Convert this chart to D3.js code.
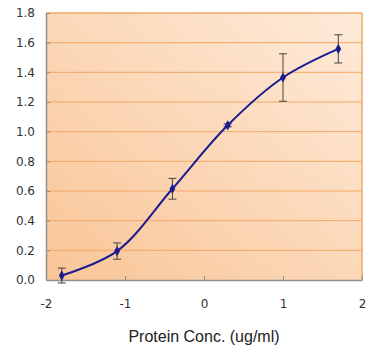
<!DOCTYPE html>
<html>
<head>
<meta charset="utf-8">
<script src="https://d3js.org/d3.v7.min.js"></script>
<style>
  body { margin: 0; background: #fff; }
  svg { display: block; }
</style>
</head>
<body>
<script>
// data
var conc = [-1.8, -1.1, -0.4, 0.3, 1.0, 1.7];
var signal = [0.03, 0.195, 0.615, 1.043, 1.365, 1.558];
var errs = [0.05, 0.055, 0.07, 0.01, 0.16, 0.095];
var xTicks = [-2, -1, 0, 1, 2];
var yTicks = [0, 0.2, 0.4, 0.6, 0.8, 1.0, 1.2, 1.4, 1.6, 1.8];

var width = 377, height = 352;
var margin = {left: 46, top: 13, right: 15, bottom: 72};

var svg = d3.select("body").append("svg")
    .attr("width", width)
    .attr("height", height);

var x = d3.scaleLinear().domain([-2, 2]).range([margin.left, width - margin.right]);
var y = d3.scaleLinear().domain([0, 1.8]).range([height - margin.bottom, margin.top]);

// background gradient
var defs = svg.append("defs");
var grad = defs.append("linearGradient")
    .attr("id", "bg")
    .attr("x1", "0%").attr("y1", "100%")
    .attr("x2", "100%").attr("y2", "0%");
grad.append("stop").attr("offset", "0%").attr("stop-color", "#f9c596");
grad.append("stop").attr("offset", "100%").attr("stop-color", "#feebda");

svg.append("rect")
    .attr("x", x(-2)).attr("y", y(1.8))
    .attr("width", x(2) - x(-2))
    .attr("height", y(0) - y(1.8))
    .attr("fill", "url(#bg)");

// gridlines
svg.append("g").selectAll("line")
    .data(yTicks.filter(function(d){ return d > 0; }))
    .enter().append("line")
    .attr("x1", x(-2)).attr("x2", x(2))
    .attr("y1", function(d){ return y(d); })
    .attr("y2", function(d){ return y(d); })
    .attr("stroke", "#f2a764")
    .attr("stroke-width", function(d){ return d === 1.8 ? 1.5 : 1; });

// right border
svg.append("line")
    .attr("x1", x(2)).attr("x2", x(2))
    .attr("y1", y(1.8)).attr("y2", y(0))
    .attr("stroke", "#f2a764").attr("stroke-width", 1.5);

// axes
var yAxis = d3.axisLeft(y).tickValues(yTicks)
    .tickFormat(d3.format(".1f"))
    .tickSizeInner(-4).tickSizeOuter(0).tickPadding(11);
var gy = svg.append("g")
    .attr("transform", "translate(" + x(-2) + ",0)")
    .call(yAxis);

var xAxis = d3.axisBottom(x).tickValues(xTicks)
    .tickFormat(function(d){ return String(d); })
    .tickSizeInner(-4).tickSizeOuter(0).tickPadding(19);
var gx = svg.append("g")
    .attr("transform", "translate(0," + y(0) + ")")
    .call(xAxis);

[gx, gy].forEach(function(g){
    g.select(".domain").attr("stroke", "#8f8f8f").attr("stroke-width", 1.5);
    g.selectAll(".tick line").attr("stroke", "#8f8f8f");
    g.selectAll(".tick text")
        .attr("fill", "#333")
        .style("font-family", "'DejaVu Sans', sans-serif")
        .style("font-size", "12px");
});

svg.append("text")
    .attr("x", x(0))
    .attr("y", 342)
    .attr("text-anchor", "middle")
    .attr("fill", "#222")
    .style("font-family", "'Liberation Sans', Arial, sans-serif")
    .style("font-size", "16px")
    .text("Protein Conc. (ug/ml)");

// error bars
var pts = conc.map(function(c, i){ return {x: c, y: signal[i], e: errs[i]}; });
var eb = svg.append("g").attr("stroke", "#444").attr("stroke-width", 1);
eb.selectAll(".v").data(pts).enter().append("line")
    .attr("x1", function(d){ return x(d.x); })
    .attr("x2", function(d){ return x(d.x); })
    .attr("y1", function(d){ return y(d.y + d.e); })
    .attr("y2", function(d){ return y(d.y - d.e); });
eb.selectAll(".t").data(pts).enter().append("line")
    .attr("x1", function(d){ return x(d.x) - 4; })
    .attr("x2", function(d){ return x(d.x) + 4; })
    .attr("y1", function(d){ return y(d.y + d.e); })
    .attr("y2", function(d){ return y(d.y + d.e); });
eb.selectAll(".b").data(pts).enter().append("line")
    .attr("x1", function(d){ return x(d.x) - 4; })
    .attr("x2", function(d){ return x(d.x) + 4; })
    .attr("y1", function(d){ return y(d.y - d.e); })
    .attr("y2", function(d){ return y(d.y - d.e); });

// smoothed line
var line = d3.line()
    .x(function(d){ return x(d.x); })
    .y(function(d){ return y(d.y); })
    .curve(d3.curveCatmullRom.alpha(0.5));
svg.append("path")
    .datum(pts)
    .attr("d", line)
    .attr("fill", "none")
    .attr("stroke", "#1c1c8e")
    .attr("stroke-width", 2);

// diamond markers
svg.append("g").selectAll("path")
    .data(pts).enter().append("path")
    .attr("d", d3.symbol().type(d3.symbolDiamond).size(30))
    .attr("transform", function(d){ return "translate(" + x(d.x) + "," + y(d.y) + ")"; })
    .attr("fill", "#1c1c8e");
</script>
</body>
</html>
